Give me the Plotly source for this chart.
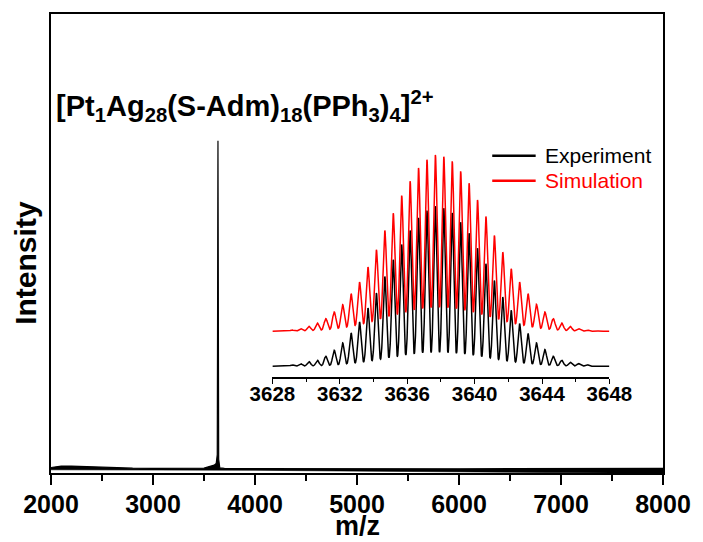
import numpy as np
import plotly.graph_objects as go

# ---------------- Data ----------------
# Main spectrum: baseline noise band (upper / lower envelope) and the cluster peak
mz_main = [2000, 2050, 2100, 2200, 2300, 2500, 2800, 3000, 3300, 3500, 3550, 3600,
           3620, 3630, 3637, 3644, 3655, 3700, 4000, 4500, 5000, 5500, 6000, 6500,
           7000, 7500, 8000]
upper_main = [1.2, 1.4, 1.5, 1.5, 1.4, 1.2, 1.05, 1.0, 1.0, 1.05, 1.4, 1.7,
              2.1, 4.0, 72.4, 3.0, 1.1, 1.0, 0.95, 0.9, 0.9, 0.9, 0.9, 0.95,
              1.0, 1.0, 1.0]
lower_main = [0.7, 0.7, 0.7, 0.7, 0.7, 0.7, 0.7, 0.7, 0.7, 0.7, 0.7, 0.7,
              0.7, 0.7, 0.7, 0.7, 0.7, 0.65, 0.6, 0.5, 0.4, 0.3, 0.2, 0.1,
              0.0, 0.0, 0.0]

# Inset: isotope peak centres (m/z) and peak heights (a.u.)
iso_mz = [3628.67, 3629.17, 3629.67, 3630.17, 3630.67, 3631.17, 3631.67, 3632.17,
          3632.67, 3633.17, 3633.67, 3634.17, 3634.67, 3635.17, 3635.67, 3636.17,
          3636.67, 3637.17, 3637.67, 3638.17, 3638.67, 3639.17, 3639.67, 3640.17,
          3640.67, 3641.17, 3641.67, 3642.17, 3642.67, 3643.17, 3643.67, 3644.17,
          3644.67, 3645.17, 3645.67, 3646.17, 3646.67, 3647.17]
exp_heights = [2, 4, 8, 14, 18, 30, 48, 70,
               100, 133, 175, 220, 270, 320, 366, 408,
               446, 468, 481, 475, 461, 433, 400, 355,
               308, 258, 208, 168, 128, 98, 70, 50,
               30, 18, 12, 8, 5, 2]
sim_heights = [2, 4, 8, 15, 25, 38, 58, 80,
               113, 148, 193, 245, 303, 355, 408, 451,
               491, 516, 530, 525, 511, 481, 445, 395,
               345, 288, 238, 188, 148, 113, 81, 58,
               38, 25, 15, 8, 4, 2]
SIM_OFFSET = 105          # vertical offset of the simulated trace
EXP_WIDTH = 0.100         # peak width (sigma, m/z) of experiment
SIM_WIDTH = 0.108         # peak width (sigma, m/z) of simulation

inset_ticks = [3628, 3632, 3636, 3640, 3644, 3648]
main_ticks = [2000, 3000, 4000, 5000, 6000, 7000, 8000]

# ---------------- Build inset profiles from the peak lists ----------------
xg = np.linspace(3628, 3648, 2001)
def profile(centres, heights, sigma):
    c = np.array(centres)[:, None]
    h = np.array(heights, dtype=float)[:, None]
    return (h * np.exp(-(xg[None, :] - c) ** 2 / (2 * sigma ** 2))).sum(axis=0)

exp_prof = profile(iso_mz, exp_heights, EXP_WIDTH)
sim_prof = profile(iso_mz, sim_heights, SIM_WIDTH) + SIM_OFFSET

FONT = "Liberation Sans, Arial, sans-serif"

fig = go.Figure()

# main spectrum: noise band + peak
fig.add_trace(go.Scatter(x=mz_main, y=lower_main, mode="lines",
                         line=dict(color="black", width=0.6), showlegend=False,
                         hoverinfo="skip"))
fig.add_trace(go.Scatter(x=mz_main, y=upper_main, mode="lines", fill="tonexty",
                         fillcolor="black", line=dict(color="black", width=1.2),
                         showlegend=False))

# inset traces
fig.add_trace(go.Scatter(x=xg, y=exp_prof, mode="lines", xaxis="x2", yaxis="y2",
                         line=dict(color="black", width=1.5), name="Experiment",
                         showlegend=False))
fig.add_trace(go.Scatter(x=xg, y=sim_prof, mode="lines", xaxis="x2", yaxis="y2",
                         line=dict(color="#ff0000", width=1.5), name="Simulation",
                         showlegend=False))

W, H = 703, 542
L, R, T, B = 51, 32, 13, 69
pw, ph = W - L - R, H - T - B
def px(x):
    return (x - L) / pw
def py(y):
    return (H - B - y) / ph

fig.update_layout(
    width=W, height=H,
    margin=dict(l=L, r=R, t=T, b=B, pad=0),
    paper_bgcolor="white", plot_bgcolor="white",
    showlegend=False,
    font=dict(family=FONT, color="black"),
    xaxis=dict(range=[2000, 8000], tickvals=main_ticks, ticks="outside",
               ticklen=10, tickwidth=1.5, tickcolor="black",
               ticklabelstandoff=-2,
               minor=dict(dtick=500, tick0=2000, ticks="outside", ticklen=6,
                          tickwidth=1.5, tickcolor="black"),
               showline=True, linecolor="black", linewidth=1.5, mirror=True,
               showgrid=False, zeroline=False,
               tickfont=dict(size=25, family=FONT, weight="bold")),
    yaxis=dict(range=[0, 100], showticklabels=False, ticks="",
               showline=True, linecolor="black", linewidth=1.5, mirror=True,
               showgrid=False, zeroline=False),
    xaxis2=dict(domain=[px(275.3), px(616.7)], anchor="y2", range=[3628, 3648],
                tickvals=inset_ticks, ticks="outside", ticklen=5, tickwidth=1.3,
                tickcolor="black", ticklabelstandoff=-7,
                minor=dict(dtick=2, tick0=3628, ticks="outside", ticklen=3,
                           tickwidth=1.3, tickcolor="black"),
                showline=True, linecolor="black", linewidth=1.5,
                showgrid=False, zeroline=False,
                tickfont=dict(size=20.5, family=FONT, weight="bold")),
    yaxis2=dict(domain=[py(376.7), py(140)], anchor="x2", range=[-32, 678],
                visible=False),
)

annotations = [
    dict(text="Intensity", textangle=-90, x=px(25), y=py(262), xref="paper",
         yref="paper", xanchor="center", yanchor="middle", showarrow=False,
         font=dict(size=30, family=FONT, weight="bold")),
    dict(text="m/z", x=0.5, y=py(542), xref="paper", yref="paper",
         xanchor="center", yanchor="bottom", showarrow=False, borderpad=0,
         font=dict(size=27, family=FONT, weight="bold")),
    dict(text="[Pt<sub>1</sub>Ag<sub>28</sub>(S-Adm)<sub>18</sub>(PPh<sub>3</sub>)<sub>4</sub>]<sup>2+</sup>",
         x=px(54), y=py(127), xref="paper", yref="paper", xanchor="left",
         yanchor="bottom", showarrow=False,
         font=dict(size=29, family=FONT, weight="bold")),
    dict(text="Experiment", x=px(549), y=py(155), xref="paper", yref="paper",
         xanchor="left", yanchor="middle", showarrow=False,
         font=dict(size=21, family=FONT, color="black")),
    dict(text="Simulation", x=px(549), y=py(180), xref="paper", yref="paper",
         xanchor="left", yanchor="middle", showarrow=False,
         font=dict(size=21, family=FONT, color="#ff0000")),
]
fig.update_layout(annotations=annotations)

fig.add_shape(type="line", xref="paper", yref="paper", x0=px(498), x1=px(542),
              y0=py(155), y1=py(155), line=dict(color="black", width=2.5))
fig.add_shape(type="line", xref="paper", yref="paper", x0=px(498), x1=px(542),
              y0=py(180), y1=py(180), line=dict(color="#ff0000", width=2.5))

fig.write_html("out.html")
